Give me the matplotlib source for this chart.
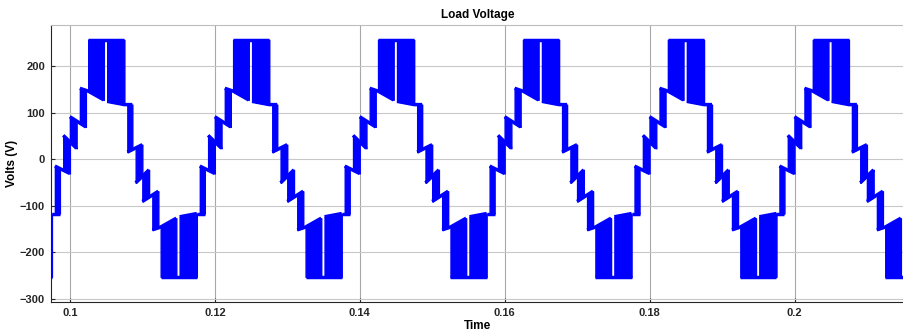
import numpy as np
import matplotlib.pyplot as plt

plt.rcParams['font.family'] = ['Liberation Sans', 'DejaVu Sans']
plt.rcParams['font.weight'] = 'bold'

# start of each cycle (s); the cycle starts right after the negative peak block
cycle_starts = [0.0775, 0.0975, 0.1175, 0.1375, 0.1575, 0.1775, 0.1975]

# levels inside one cycle: times in ms from cycle start, values in volts
tail_t = [0.0, 1.10];               tail_v = [-117, -117]
up1_t = [0.41, 2.48];               up1_v = [-15, -31]
up2_t = [1.56, 3.41];               up2_v = [51, 23]
up3_t = [2.48, 4.69];               up3_v = [91, 69]
up4_t = [3.86, 5.01, 7.17];         up4_v = [152, 146, 127]
up4b_t = [7.63, 10.0, 11.10];       up4b_v = [124, 117, 117]
top_t = [5.01, 10.0];               top_v = [256, 256]
dn1_t = [10.41, 12.48];             dn1_v = [15, 31]
dn2_t = [11.56, 13.41];             dn2_v = [-51, -23]
dn3_t = [12.48, 14.69];             dn3_v = [-91, -69]
dn4_t = [13.86, 15.01, 17.17];      dn4_v = [-152, -146, -127]
dn4b_t = [17.63, 20.0];             dn4b_v = [-124, -117]
bot_t = [15.01, 20.0];              bot_v = [-253, -253]

levels = {
    'tail': (tail_t, tail_v), 'up1': (up1_t, up1_v), 'up2': (up2_t, up2_v),
    'up3': (up3_t, up3_v), 'up4': (up4_t, up4_v), 'up4b': (up4b_t, up4b_v),
    'top': (top_t, top_v), 'dn1': (dn1_t, dn1_v), 'dn2': (dn2_t, dn2_v),
    'dn3': (dn3_t, dn3_v), 'dn4': (dn4_t, dn4_v), 'dn4b': (dn4b_t, dn4b_v),
    'bot': (bot_t, bot_v),
}

# switching bands: (start ms, end ms, lower level, upper level)
band_t0 = [0.41, 1.56, 2.48, 3.86, 5.01, 7.63, 10.41, 11.56, 12.48, 13.86, 15.01, 17.63]
band_t1 = [1.10, 2.48, 3.41, 4.69, 7.17, 10.0, 11.10, 12.48, 13.41, 14.69, 17.17, 20.0]
band_lo = ['tail', 'up1', 'up2', 'up3', 'up4', 'up4b', 'dn1', 'dn2', 'dn3', 'dn4', 'bot', 'bot']
band_hi = ['up1', 'up2', 'up3', 'up4', 'top', 'top', 'up4b', 'dn1', 'dn2', 'dn3', 'dn4', 'dn4b']

blue = '#0000ff'

fig = plt.figure(figsize=(9.04, 3.35), dpi=100)
ax = fig.add_axes([0.0559, 0.0985, 0.9441, 0.8269])

for start in cycle_starts:
    for name, (lt, lv) in levels.items():
        ax.plot(start + np.array(lt) / 1000, lv, color=blue, lw=2.5,
                solid_capstyle='butt', zorder=3)
    for t0, t1, lo, hi in zip(band_t0, band_t1, band_lo, band_hi):
        tt = np.linspace(t0, t1, 12)
        lo_v = np.interp(tt, *levels[lo])
        hi_v = np.interp(tt, *levels[hi])
        ax.fill_between(start + tt / 1000, lo_v, hi_v, color=blue, lw=1.0,
                        edgecolor=blue, zorder=3)

ax.set_xlim(0.09731, 0.2151)
ax.set_ylim(-307, 288)
ax.set_xticks([0.1, 0.12, 0.14, 0.16, 0.18, 0.2])
ax.set_xticklabels(['0.1', '0.12', '0.14', '0.16', '0.18', '0.2'])
ax.set_yticks([-300, -200, -100, 0, 100, 200])

ax.grid(True, color='#c8c8c8', lw=0.8)
ax.xaxis.grid(True, color='#a8a8a8', lw=0.8)
ax.set_axisbelow(True)
ax.tick_params(direction='in', length=3, labelsize=8, colors='#262626', pad=4)
for lab in ax.get_xticklabels() + ax.get_yticklabels():
    lab.set_fontweight('bold')

for s in ['left', 'bottom']:
    ax.spines[s].set_color('#262626')
    ax.spines[s].set_linewidth(0.8)
ax.spines['top'].set_color('#bdbdbd')
ax.spines['right'].set_visible(False)

ax.set_title('Load Voltage', fontsize=8.5, fontweight='bold', pad=5)
ax.set_xlabel('Time', fontsize=8.5, fontweight='bold', labelpad=2)
ax.set_ylabel('Volts (V)', fontsize=8.5, fontweight='bold', labelpad=1)

fig.savefig('out.png', dpi=100)
